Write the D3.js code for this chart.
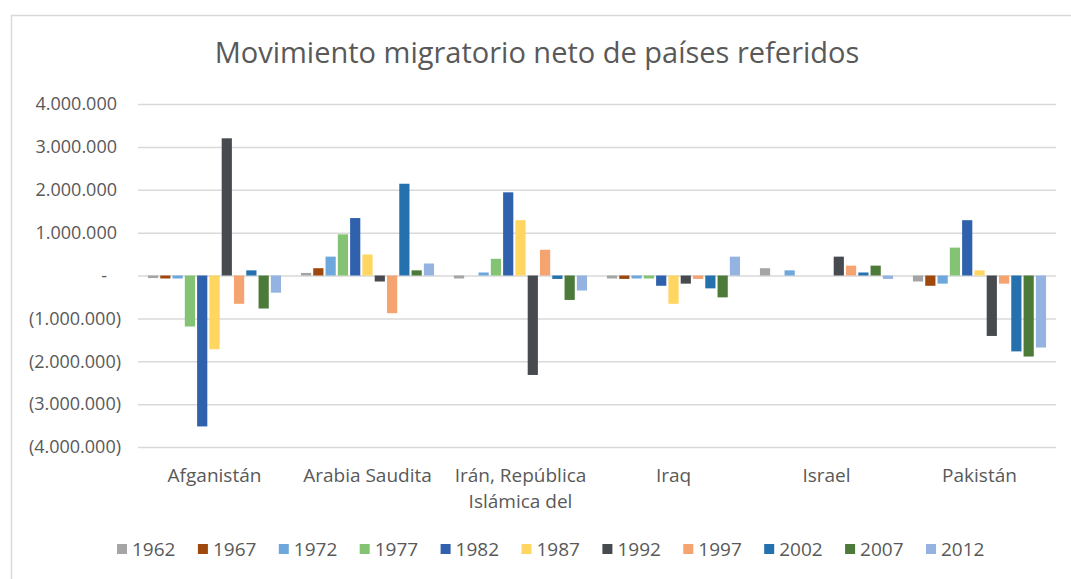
<!DOCTYPE html>
<html>
<head>
<meta charset="utf-8">
<script src="https://cdnjs.cloudflare.com/ajax/libs/d3/7.8.5/d3.min.js"></script>
<style>
    body { margin: 0; background: #fff; }
    text { font-family: "Open Sans", sans-serif; fill: #595959; }
</style>
</head>
<body>
<div id="chart"></div>
<script>
// valores (personas)
var categories = ["Afganistán", "Arabia Saudita", "Irán, República Islámica del", "Iraq", "Israel", "Pakistán"];
var years = ["1962", "1967", "1972", "1977", "1982", "1987", "1992", "1997", "2002", "2007", "2012"];
var yTicks = [4000000, 3000000, 2000000, 1000000, 0, -1000000, -2000000, -3000000, -4000000];

var afganistan = [-60000, -70000, -70000, -1190000, -3520000, -1720000, 3200000, -660000, 120000, -770000, -400000];
var arabiaSaudita = [60000, 170000, 440000, 960000, 1340000, 490000, -140000, -880000, 2140000, 120000, 280000];
var iran = [-70000, 0, 70000, 390000, 1940000, 1290000, -2320000, 600000, -80000, -570000, -350000];
var iraq = [-70000, -80000, -70000, -70000, -240000, -660000, -190000, -80000, -300000, -510000, 440000];
var israel = [170000, 0, 120000, 0, 0, 0, 440000, 230000, 70000, 230000, -80000];
var pakistan = [-140000, -240000, -190000, 650000, 1290000, 120000, -1410000, -190000, -1770000, -1890000, -1680000];

var colors = ["#a5a5a5", "#9e480e", "#6ea7dc", "#83c373", "#3061ad", "#ffd662",
              "#474b4f", "#f5a370", "#2471ad", "#4b7a39", "#94b3e0"];

var values = [afganistan, arabiaSaudita, iran, iraq, israel, pakistan];

var W = 1071, H = 579;
var margin = {top: 104, right: 15, bottom: 132, left: 138};
var width = W - margin.left - margin.right,
    height = H - margin.top - margin.bottom;

var svg = d3.select("#chart").append("svg")
    .attr("width", W)
    .attr("height", H);

// borde del area del grafico
svg.append("rect")
    .attr("x", 11.5)
    .attr("y", 15.5)
    .attr("width", 1100)
    .attr("height", 600)
    .style("fill", "#fff")
    .style("stroke", "#d9d9d9")
    .style("stroke-width", 1.5);

svg.append("text")
    .attr("x", 537)
    .attr("y", 63)
    .attr("text-anchor", "middle")
    .style("font-size", "29px")
    .text("Movimiento migratorio neto de países referidos");

var g = svg.append("g")
    .attr("transform", "translate(" + margin.left + "," + margin.top + ")");

var x0 = d3.scaleBand()
    .domain(categories)
    .range([0, width])
    .paddingInner(0.13)
    .paddingOuter(0.065);

var x1 = d3.scaleBand()
    .domain(years)
    .range([0, x0.bandwidth()])
    .paddingInner(0.17);

var y = d3.scaleLinear()
    .domain([-4000000, 4000000])
    .range([height, 0]);

var locale = d3.formatLocale({decimal: ",", thousands: ".", grouping: [3], currency: ["", ""]});
var fmt = locale.format(",.0f");
function tickText(d) {
    if (d === 0) return "-";
    if (d < 0) return "(" + fmt(-d) + ")";
    return fmt(d);
}

// lineas de division y etiquetas del eje vertical
var yAxis = g.append("g")
    .call(d3.axisLeft(y).tickValues(yTicks).tickFormat(tickText).tickSize(-width).tickPadding(0));
yAxis.select(".domain").remove();
yAxis.selectAll(".tick line")
    .style("stroke", "#d9d9d9")
    .style("stroke-width", 1.5);
yAxis.selectAll(".tick text")
    .attr("x", function (d) { return d === 0 ? -31 : (d < 0 ? -17 : -21); })
    .style("font-size", "18px")
    .style("fill", "#595959")
    .style("font-family", "Open Sans, sans-serif");

// barras
var groups = g.selectAll(".group")
    .data(categories)
    .enter().append("g")
    .attr("class", "group")
    .attr("transform", function (d) { return "translate(" + x0(d) + ",0)"; });

groups.selectAll(".bar")
    .data(function (d, i) {
        return years.map(function (yr, j) {
            return {year: yr, value: values[i][j], color: colors[j]};
        });
    })
    .enter().append("rect")
    .attr("class", "bar")
    .attr("x", function (d) { return x1(d.year); })
    .attr("width", x1.bandwidth())
    .attr("y", function (d) { return y(Math.max(0, d.value)); })
    .attr("height", function (d) { return Math.abs(y(d.value) - y(0)); })
    .style("fill", function (d) { return d.color; });

// etiquetas de categorias
var xAxis = g.append("g")
    .attr("transform", "translate(0," + height + ")")
    .call(d3.axisBottom(x0).tickSize(0).tickPadding(29));
xAxis.select(".domain").remove();
xAxis.selectAll(".tick text")
    .style("font-size", "19px")
    .style("fill", "#595959")
    .style("font-family", "Open Sans, sans-serif")
    .call(wrap, x0.step() - 4);

function wrap(texts, maxWidth) {
    texts.each(function () {
        var text = d3.select(this),
            words = text.text().split(/\s+/),
            line = [],
            lineNumber = 0,
            ty = text.attr("y"),
            tspan = text.text(null).append("tspan").attr("x", 0).attr("y", ty).attr("dy", "0.32em");
        words.forEach(function (w) {
            line.push(w);
            tspan.text(line.join(" "));
            if (tspan.node().getComputedTextLength() > maxWidth && line.length > 1) {
                line.pop();
                tspan.text(line.join(" "));
                line = [w];
                lineNumber++;
                tspan = text.append("tspan").attr("x", 0).attr("y", ty)
                    .attr("dy", (0.32 + lineNumber * 1.37) + "em").text(w);
            }
        });
    });
}

// leyenda
var legendX = d3.scaleBand()
    .domain(years)
    .range([117, 117 + 80.9 * years.length]);

var legend = svg.selectAll(".legend")
    .data(years)
    .enter().append("g")
    .attr("class", "legend")
    .attr("transform", function (d) { return "translate(" + legendX(d) + ",549)"; });

legend.append("rect")
    .attr("x", 0)
    .attr("y", -5)
    .attr("width", 10)
    .attr("height", 10)
    .style("fill", function (d, i) { return colors[i]; });

legend.append("text")
    .attr("x", 15)
    .attr("dy", "0.35em")
    .style("font-size", "19px")
    .text(function (d) { return d; });
</script>
</body>
</html>
